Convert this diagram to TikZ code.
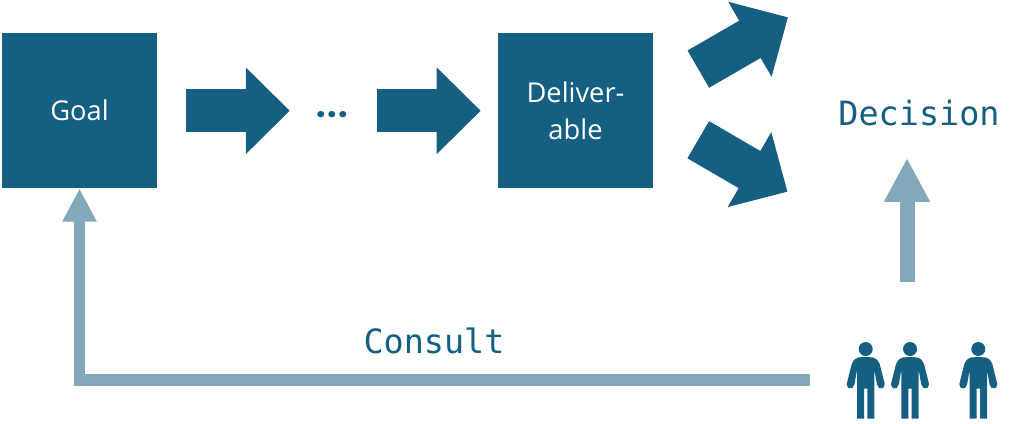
\documentclass[tikz,border=0pt]{standalone}
\usepackage{fontspec}
\setmainfont{Open Sans}
\setmonofont{DejaVu Sans Mono}
\newfontfamily\dotfont[LetterSpace=4.6]{Poppins}
\usetikzlibrary{arrows.meta,positioning,calc}
\definecolor{deepteal}{RGB}{21,96,130}
\definecolor{softteal}{RGB}{131,168,185}
\begin{document}
\begin{tikzpicture}[
 x=0.25mm,y=-0.25mm,
 stagebox/.style={fill=deepteal,text=white,minimum width=38.75mm,minimum height=38.75mm,inner sep=0pt,align=center,font=\fontsize{19.4}{26.4}\selectfont},
 label/.style={text=deepteal,font=\ttfamily\fontsize{23.8}{26}\selectfont},
 blockarrow/.style={-{Triangle[length=11mm,width=21mm]},line width=10.75mm,draw=deepteal},
 uparrow/.style={-{Triangle[length=11mm,width=10.75mm]},line width=3.75mm,draw=softteal},
 backarrow/.style={-{Triangle[length=8.25mm,width=8mm]},line width=2.9mm,draw=softteal},
 person/.pic={
  \fill[deepteal] (0,0) circle (1.75mm);
  \fill[deepteal,rounded corners=0.5mm] (0,8) -- (9,8.5) -- (13.5,13) -- (19.5,37) -- (15,40.5) -- (11.5,37) -- (8.7,21)
   [sharp corners] -- (8.7,69.7) -- (1.7,69.7) -- (1.7,39.5) -- (-1.7,39.5) -- (-1.7,69.7) -- (-8.7,69.7) -- (-8.7,21)
   [rounded corners=0.5mm] -- (-11.5,37) -- (-15,40.5) -- (-19.5,37) -- (-13.5,13) -- (-9,8.5) -- cycle;
 }
]
\useasboundingbox (0,0) rectangle (1024,423);
\node[stagebox] (goal) at (79.5,110.75) {Goal};
\node[stagebox] (deliver) at (575.5,110.75) {Deliver-\\able};
\node[text=deepteal,font=\dotfont\bfseries\fontsize{24}{26}\selectfont,inner sep=0pt,minimum width=8.75mm] (dots) at (332,115) {...};
\node[label] (decision) at (919,113) {Decision};
\node[label] (consult) at (434,341) {Consult};
\coordinate (dectop) at (788,17.3);
\coordinate (decbot) at (787.5,191.7);
\coordinate (crowd) at (907,282);
\foreach \pname/\px in {pa/865.7,pb/910,pc/978.3}{
 \coordinate (\pname) at (\px,380);
 \pic at (\px,349) {person};
}
\draw[blockarrow,shorten <=7.25mm,shorten >=6.1mm] (goal.east) -- (goal.east -| dots.west);
\draw[blockarrow,shorten <=6.7mm,shorten >=4.25mm] (deliver.west -| dots.east) -- (deliver.west);
\draw[blockarrow,shorten <=13mm] ([yshift=3.9mm]deliver.east) -- (dectop);
\draw[blockarrow,shorten <=13mm] ([yshift=-0.7mm]deliver.east) -- (decbot);
\draw[uparrow,shorten >=6.75mm] (crowd) -- (crowd |- decision.south);
\draw[backarrow,shorten <=14mm] (pa) -| (goal);
\end{tikzpicture}
\end{document}
